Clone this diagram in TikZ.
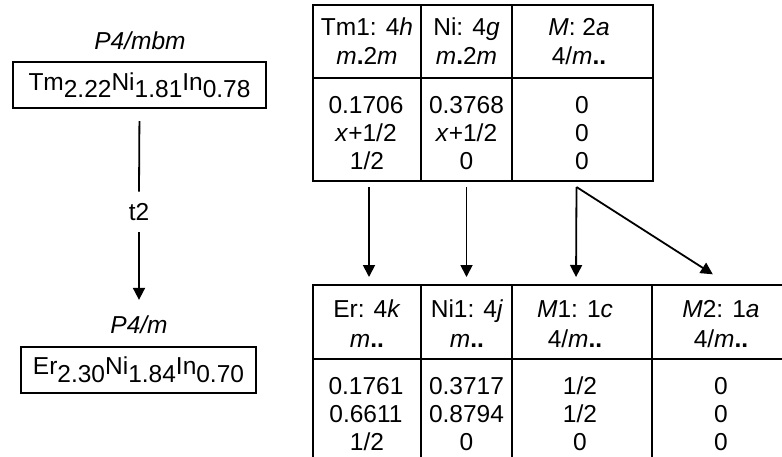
\documentclass[tikz,border=0pt]{standalone}
\usepackage{fontspec}
\setmainfont{Liberation Sans}
\usetikzlibrary{arrows.meta,fit}
\newcommand\myMdot{\textit{m}\textbf{.}2\textit{m}}
\newcommand\myMdd{\textit{m}\textbf{..}}
\begin{document}
\begin{tikzpicture}[x=0.5pt,y=-0.5pt,
  txt/.style={font=\fontsize{12.25pt}{14pt}\selectfont, inner sep=0pt, anchor=base},
  cellbox/.style={draw, line width=1pt, inner sep=0pt},
  fbox/.style={draw, line width=1pt, inner sep=0pt, font=\fontsize{12.25pt}{14pt}\selectfont},
  conn/.style={line width=0.9pt},
  arr/.style={line width=0.9pt, -{Triangle[length=6pt,width=6pt]}}]
\useasboundingbox (0,0) rectangle (782,456);

% ---- left side ----
\node[txt] (p4mbm) at (140,49) {\textit{P4/mbm}};
\node[fbox, minimum width=126.5pt, minimum height=23pt] (tmbox) at (139.5,85)
  {Tm\raisebox{-3.5pt}{2.22}Ni\raisebox{-3.5pt}{1.81}In\raisebox{-3.5pt}{0.78}};
\node[font=\fontsize{12.25pt}{14pt}\selectfont, inner sep=0pt, minimum height=20pt] (t2) at (139,212) {t2};
\node[txt] (p4m) at (139,333) {\textit{P4/m}};
\node[fbox, minimum width=117.5pt, minimum height=23pt] (erbox) at (138.5,370)
  {Er\raisebox{-4pt}{2.30}Ni\raisebox{-4pt}{1.84}In\raisebox{-4pt}{0.70}};
\draw[conn, shorten <=6pt] (tmbox.south) -- (t2.north);
\draw[arr, shorten >=7.5pt] (t2.south) -- (p4m.north);

% ---- top table ----
\node[cellbox, fit={(313,5) (421,78)}] (th1) {};
\node[cellbox, fit={(421,5) (512,78)}] (th2) {};
\node[cellbox, fit={(512,5) (653,78)}] (th3) {};
\node[cellbox, fit={(313,78) (421,181)}] (tb1) {};
\node[cellbox, fit={(421,78) (512,181)}] (tb2) {};
\node[cellbox, fit={(512,78) (653,181)}] (tb3) {};

\node[txt] (th1a) at (367,35) {Tm1: 4\textit{h}};
\node[txt] (th1b) at (367,64) {\myMdot};
\node[txt] (th2a) at (466.5,35) {Ni: 4\textit{g}};
\node[txt] (th2b) at (466.5,64) {\myMdot};
\node[txt] (th3a) at (579,35) {\textit{M}: 2\textit{a}};
\node[txt] (th3b) at (579,64) {4/\myMdd};

\node[txt] (tb1a) at (366,113) {0.1706};
\node[txt] (tb1b) at (366,141) {\textit{x}+1/2};
\node[txt] (tb1c) at (367,169) {1/2};
\node[txt] (tb2a) at (466.5,113) {0.3768};
\node[txt] (tb2b) at (466.5,141) {\textit{x}+1/2};
\node[txt] (tb2c) at (466.5,169) {0};
\node[txt] (tb3a) at (582,113) {0};
\node[txt] (tb3b) at (582,141) {0};
\node[txt] (tb3c) at (582,169) {0};

% ---- bottom table (cropped at right and bottom) ----
\begin{scope}
\clip (0,0) rectangle (782,456);
\node[cellbox, fit={(313,285) (421,359)}] (bh1) {};
\node[cellbox, fit={(421,285) (512,359)}] (bh2) {};
\node[cellbox, fit={(512,285) (652,359)}] (bh3) {};
\node[cellbox, fit={(652,285) (790,359)}] (bh4) {};
\node[cellbox, fit={(313,359) (421,464)}] (bb1) {};
\node[cellbox, fit={(421,359) (512,464)}] (bb2) {};
\node[cellbox, fit={(512,359) (652,464)}] (bb3) {};
\node[cellbox, fit={(652,359) (790,464)}] (bb4) {};
\end{scope}

\node[txt] (bh1a) at (367,317) {Er: 4\textit{k}};
\node[txt] (bh1b) at (367,347) {\myMdd};
\node[txt] (bh2a) at (467,317) {Ni1: 4\textit{j}};
\node[txt] (bh2b) at (467,347) {\myMdd};
\node[txt] (bh3a) at (575,317) {\textit{M}1: 1\textit{c}};
\node[txt] (bh3b) at (575,347) {4/\myMdd};
\node[txt] (bh4a) at (721,317) {\textit{M}2: 1\textit{a}};
\node[txt] (bh4b) at (721,347) {4/\myMdd};

\node[txt] (bb1a) at (366,394) {0.1761};
\node[txt] (bb1b) at (366,422) {0.6611};
\node[txt] (bb1c) at (367,450) {1/2};
\node[txt] (bb2a) at (466.5,394) {0.3717};
\node[txt] (bb2b) at (466.5,422) {0.8794};
\node[txt] (bb2c) at (466.5,450) {0};
\node[txt] (bb3a) at (580,394) {1/2};
\node[txt] (bb3b) at (580,422) {1/2};
\node[txt] (bb3c) at (580,450) {0};
\node[txt] (bb4a) at (721,394) {0};
\node[txt] (bb4b) at (721,422) {0};
\node[txt] (bb4c) at (721,450) {0};

% ---- connectors ----
\draw[arr, shorten <=2.5pt, shorten >=3.5pt] ([xshift=1pt]tb1.south) -- ([xshift=1pt]bh1.north);
\draw[arr, shorten <=2.5pt, shorten >=3.5pt] (tb2.south) -- (bh2.north);
\coordinate (fork) at ([xshift=-3pt,yshift=-2.5pt]tb3.south);
\draw[arr, shorten >=3.5pt] (fork) -- ([xshift=-3pt]bh3.north);
\draw[arr, shorten >=9pt] (fork) -- ([xshift=3.5pt]bh4.north);
\end{tikzpicture}
\end{document}
